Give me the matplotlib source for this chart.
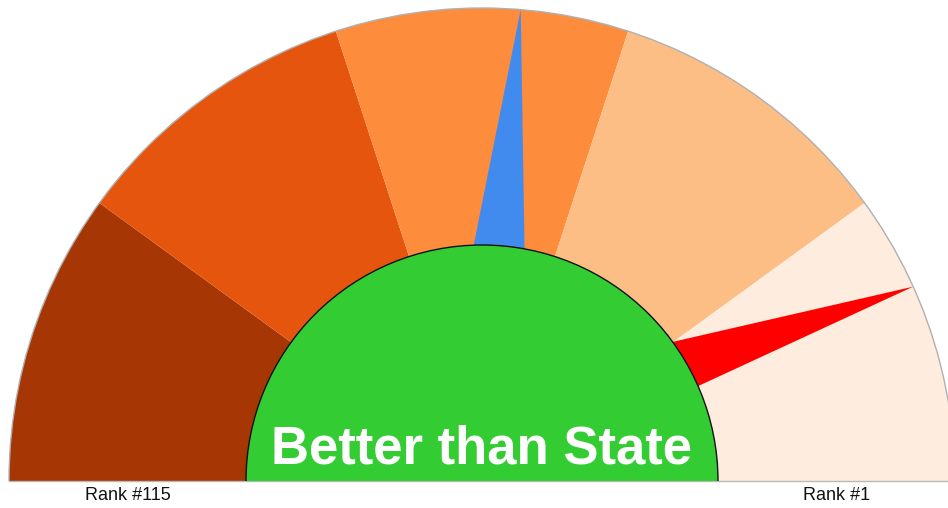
import numpy as np
import matplotlib
matplotlib.use("Agg")
import matplotlib.pyplot as plt
from matplotlib.patches import Wedge, Arc, Polygon

# ---- data ----
rank_count = 115
band_rank_edges = [115.5, 92.5, 69.5, 46.5, 23.5, 0.5]
band_colors = ["#a63603", "#e6550d", "#fd8d3c", "#fdbe85", "#feedde"]
needle_names = ["State", "County"]
needle_ranks = [55, 16]
needle_colors = ["#428bee", "#ff0000"]
center_label = "Better than State"
end_labels = ["Rank #115", "Rank #1"]

# ---- layout (pixel-like coordinates) ----
W, H = 948, 508
cx, cy = 482, 508 - 481
R_out = 473
R_in = 236

def rank_to_angle(r):
    return 180.0 * (r - 0.5) / rank_count

fig = plt.figure(figsize=(W / 100, H / 100), dpi=100)
ax = fig.add_axes([0, 0, 1, 1])
ax.set_xlim(0, W)
ax.set_ylim(0, H)
ax.set_aspect("equal")
ax.axis("off")

# bands
for i, col in enumerate(band_colors):
    a1 = rank_to_angle(band_rank_edges[i + 1])
    a2 = rank_to_angle(band_rank_edges[i])
    ax.add_patch(Wedge((cx, cy), R_out, a1, a2, facecolor=col, edgecolor="none", zorder=1))

# outer outline
ax.add_patch(Arc((cx, cy), 2 * R_out, 2 * R_out, theta1=0, theta2=180,
                 edgecolor="#b0b0b0", lw=1.0, zorder=3))
ax.plot([cx - R_out, W + 10], [cy, cy], color="#b8b8b8", lw=1.0, zorder=3)

# needles
delta = 6.2
for rk, col in zip(needle_ranks, needle_colors):
    th = rank_to_angle(rk)
    t = np.radians(th)
    tip = np.array([cx + R_out * np.cos(t), cy + R_out * np.sin(t)])
    pts = [tip]
    for s in (1, -1):
        b = np.radians(th + delta * (np.cos(t) + s))
        base = np.array([cx + R_in * np.cos(b), cy + R_in * np.sin(b)])
        pts.append(tip + 1.15 * (base - tip))
    ax.add_patch(Polygon(pts, closed=True, facecolor=col, edgecolor="none", zorder=2))

# center green dial
ax.add_patch(Wedge((cx, cy), R_in, 0, 180, facecolor="#33cc33", edgecolor="none", zorder=4))
ax.add_patch(Arc((cx, cy), 2 * R_in, 2 * R_in, theta1=0, theta2=180,
                 edgecolor="#111111", lw=1.0, zorder=5))

ax.text(cx, 508 - 463, center_label, color="white", fontsize=38, fontweight="bold",
        family="Liberation Sans", ha="center", va="baseline", zorder=6)

mid = (R_out + R_in) / 2
ax.text(cx - mid, 508 - 500, end_labels[0], fontsize=13, family="Liberation Sans",
        color="#111111", ha="center", va="baseline")
ax.text(cx + mid, 508 - 500, end_labels[1], fontsize=13, family="Liberation Sans",
        color="#111111", ha="center", va="baseline")

fig.savefig("out.png", dpi=100)
